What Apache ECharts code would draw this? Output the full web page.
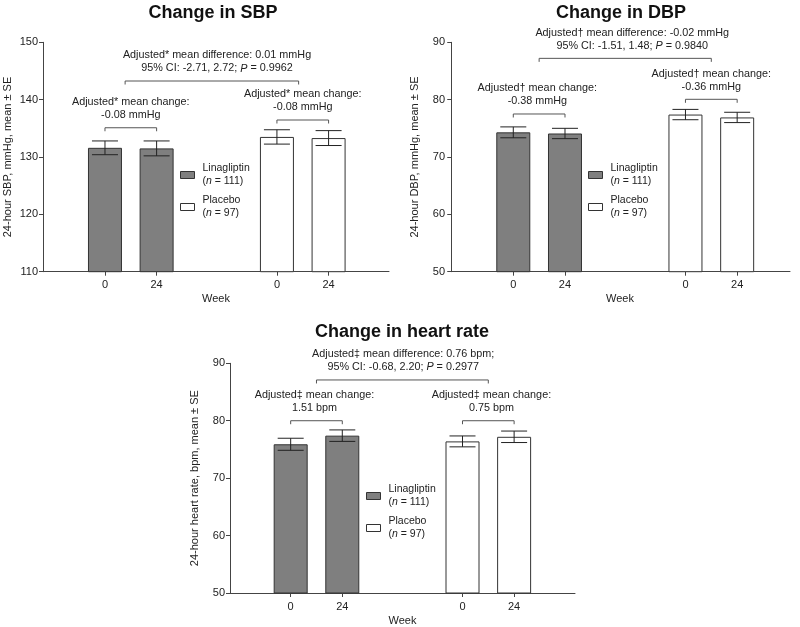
<!DOCTYPE html>
<html><head><meta charset="utf-8">
<script src="https://cdn.jsdelivr.net/npm/echarts@6/dist/echarts.min.js"></script>
<style>html,body{margin:0;padding:0;background:#fff}#c{width:800px;height:627px}</style>
</head><body><div id="c"></div>
<script>
// ---------- data ----------
const weeks = ['0', '24'];
const groups = ['Linagliptin', 'Placebo'];
const groupN = [111, 97];

const sbpTicks = [110, 120, 130, 140, 150];
const sbpLina = [131.6, 131.5];
const sbpLinaSE = [1.2, 1.3];
const sbpPlac = [133.5, 133.3];
const sbpPlacSE = [1.25, 1.3];
const sbpNotes = [
  'Adjusted* mean difference: 0.01 mmHg\n95% CI: -2.71, 2.72; {i|P} = 0.9962',
  'Adjusted* mean change:\n-0.08 mmHg',
  'Adjusted* mean change:\n-0.08 mmHg'
];

const dbpTicks = [50, 60, 70, 80, 90];
const dbpLina = [74.3, 74.1];
const dbpLinaSE = [0.95, 0.9];
const dbpPlac = [77.4, 76.9];
const dbpPlacSE = [0.9, 0.9];
const dbpNotes = [
  'Adjusted\u2020 mean difference: -0.02 mmHg\n95% CI: -1.51, 1.48; {i|P} = 0.9840',
  'Adjusted\u2020 mean change:\n-0.38 mmHg',
  'Adjusted\u2020 mean change:\n-0.36 mmHg'
];

const hrTicks = [50, 60, 70, 80, 90];
const hrLina = [75.9, 77.4];
const hrLinaSE = [1.05, 1.0];
const hrPlac = [76.4, 77.2];
const hrPlacSE = [0.95, 1.0];
const hrNotes = [
  'Adjusted\u2021 mean difference: 0.76 bpm;\n95% CI: -0.68, 2.20; {i|P} = 0.2977',
  'Adjusted\u2021 mean change:\n1.51 bpm',
  'Adjusted\u2021 mean change:\n0.75 bpm'
];

// ---------- layout ----------
const FONT = '"Liberation Sans", Arial, Helvetica, sans-serif';
const TXT = '#222';
const AX = '#444';
const NOTE_FS = 10.8;
const FIRST = 1.2, GROUP_GAP = 2.33;
const slots = [[FIRST, FIRST + 1], [FIRST + 1 + GROUP_GAP, FIRST + 2 + GROUP_GAP]];
const flatSlots = slots[0].concat(slots[1]);
const pairMid = g => (slots[g][0] + slots[g][1]) / 2;

const panels = [
  { title: 'Change in SBP', yName: '24-hour SBP, mmHg, mean \u00b1 SE',
    ticks: sbpTicks, lina: sbpLina, linaSE: sbpLinaSE, plac: sbpPlac, placSE: sbpPlacSE, notes: sbpNotes,
    grid: { left: 43, top: 42.3, width: 346, height: 229.4 }, xMin: 0, xMax: 6.7,
    titlePos: { left: 213, top: 4 }, legendPos: { left: 180, top: 162 },
    big: { a: slots[0][0] + 0.39, b: slots[1][0] + 0.42, y: 143.25, tx: 3.37 },
    small: [{ y: 135.1, tx: pairMid(0) }, { y: 136.45, tx: pairMid(1) }] },
  { title: 'Change in DBP', yName: '24-hour DBP, mmHg, mean \u00b1 SE',
    ticks: dbpTicks, lina: dbpLina, linaSE: dbpLinaSE, plac: dbpPlac, placSE: dbpPlacSE, notes: dbpNotes,
    grid: { left: 450, top: 42.3, width: 340, height: 229.4 }, xMin: -0.024, xMax: 6.552,
    titlePos: { left: 621, top: 4 }, legendPos: { left: 588, top: 162 },
    big: { a: pairMid(0), b: pairMid(1), y: 87.2, tx: 3.5 },
    small: [{ y: 77.5, tx: pairMid(0) - 0.035 }, { y: 80.06, tx: pairMid(1) }] },
  { title: 'Change in heart rate', yName: '24-hour heart rate, bpm, mean \u00b1 SE',
    ticks: hrTicks, lina: hrLina, linaSE: hrLinaSE, plac: hrPlac, placSE: hrPlacSE, notes: hrNotes,
    grid: { left: 230, top: 363.3, width: 345, height: 230 }, xMin: 0.024, xMax: 6.71,
    titlePos: { left: 402, top: 323 }, legendPos: { left: 366, top: 483 },
    big: { a: pairMid(0), b: pairMid(1), y: 87.1, tx: 3.38 },
    small: [{ y: 80.0, tx: pairMid(0) - 0.04 }, { y: 80.0, tx: pairMid(1) + 0.06 }] }
];

const richLegend = { i: { fontStyle: 'italic', fontSize: 10.5, fontFamily: FONT, lineHeight: 13, color: TXT } };
const richNote = { i: { fontStyle: 'italic', fontSize: NOTE_FS, fontFamily: FONT, lineHeight: 13, color: TXT } };

const option = { animation: false, backgroundColor: '#fff',
  title: [], grid: [], xAxis: [], yAxis: [], legend: [], series: [] };

panels.forEach((p, i) => {
  option.title.push({ text: p.title, left: p.titlePos.left, top: p.titlePos.top, textAlign: 'center', padding: 0,
    textStyle: { fontFamily: FONT, fontSize: 18, fontWeight: 'bold', color: '#111' } });
  option.grid.push(Object.assign({ containLabel: false }, p.grid));
  option.xAxis.push({ type: 'value', gridIndex: i, min: p.xMin, max: p.xMax,
    name: 'Week', nameLocation: 'middle', nameGap: 22,
    nameTextStyle: { fontFamily: FONT, fontSize: 11, color: TXT },
    axisLine: { show: true, lineStyle: { color: AX, width: 1 } },
    axisTick: { show: true, length: 4, customValues: flatSlots, lineStyle: { color: AX } },
    axisLabel: { show: true, customValues: flatSlots, margin: 8, fontFamily: FONT, fontSize: 11, color: TXT,
      formatter: v => { const k = flatSlots.findIndex(s => Math.abs(s - v) < 1e-6); return k < 0 ? '' : weeks[k % 2]; } },
    splitLine: { show: false } });
  option.yAxis.push({ type: 'value', gridIndex: i, min: p.ticks[0], max: p.ticks[p.ticks.length - 1],
    interval: p.ticks[1] - p.ticks[0],
    name: p.yName, nameLocation: 'middle', nameGap: 30,
    nameTextStyle: { fontFamily: FONT, fontSize: 11, color: TXT },
    axisLine: { show: true, lineStyle: { color: AX, width: 1 } },
    axisTick: { show: true, length: 4, lineStyle: { color: AX } },
    axisLabel: { margin: 5, fontFamily: FONT, fontSize: 11, color: TXT },
    splitLine: { show: false } });
  option.legend.push({ orient: 'vertical', left: p.legendPos.left, top: p.legendPos.top, padding: 0,
    itemWidth: 14, itemHeight: 7, itemGap: 6, selectedMode: false,
    data: [
      { name: 'Linagliptin', icon: 'rect', itemStyle: { color: '#7f7f7f', borderColor: '#333', borderWidth: 1 } },
      { name: 'Placebo', icon: 'rect', itemStyle: { color: '#fff', borderColor: '#333', borderWidth: 1 } }
    ],
    formatter: name => { const g = groups.indexOf(name); return name + '\n({i|n} = ' + groupN[g] + ')'; },
    textStyle: { fontFamily: FONT, fontSize: 10.5, lineHeight: 13, color: TXT, padding: [0, 0, 0, 3], rich: richLegend } });

  option.series.push({ type: 'bar', name: 'Linagliptin', xAxisIndex: i, yAxisIndex: i, barWidth: 34, barGap: '-100%',
    clip: true, silent: true,
    itemStyle: { color: '#7f7f7f', borderColor: '#333', borderWidth: 1 },
    data: p.lina.map((v, k) => [slots[0][k], v]) });
  option.series.push({ type: 'bar', name: 'Placebo', xAxisIndex: i, yAxisIndex: i, barWidth: 34, barGap: '-100%',
    clip: true, silent: true,
    itemStyle: { color: '#fff', borderColor: '#333', borderWidth: 1 },
    data: p.plac.map((v, k) => [slots[1][k], v]) });

  const errData = p.lina.map((v, k) => [slots[0][k], v - p.linaSE[k], v + p.linaSE[k]])
    .concat(p.plac.map((v, k) => [slots[1][k], v - p.placSE[k], v + p.placSE[k]]));
  option.series.push({ type: 'custom', name: 'SE', xAxisIndex: i, yAxisIndex: i, silent: true, z: 5,
    encode: { x: 0, y: [1, 2] }, data: errData,
    renderItem: (params, api) => {
      const a = api.coord([api.value(0), api.value(1)]);
      const b = api.coord([api.value(0), api.value(2)]);
      const hw = 13, st = { stroke: '#222', lineWidth: 1 };
      return { type: 'group', children: [
        { type: 'line', shape: { x1: a[0], y1: a[1], x2: b[0], y2: b[1] }, style: st },
        { type: 'line', shape: { x1: a[0] - hw, y1: a[1], x2: a[0] + hw, y2: a[1] }, style: st },
        { type: 'line', shape: { x1: b[0] - hw, y1: b[1], x2: b[0] + hw, y2: b[1] }, style: st }
      ] };
    } });

  const brData = [
    [p.big.a, p.big.b, p.big.y, p.big.tx],
    [slots[0][0], slots[0][1], p.small[0].y, p.small[0].tx],
    [slots[1][0], slots[1][1], p.small[1].y, p.small[1].tx]
  ];
  const notes = p.notes;
  option.series.push({ type: 'custom', name: 'brackets', xAxisIndex: i, yAxisIndex: i, silent: true, z: 6,
    encode: { x: [0, 1], y: 2 }, data: brData,
    renderItem: (params, api) => {
      const l = api.coord([api.value(0), api.value(2)]);
      const r = api.coord([api.value(1), api.value(2)]);
      const t = api.coord([api.value(3), api.value(2)]);
      const d = 3.5;
      return { type: 'group', children: [
        { type: 'polyline', shape: { points: [[l[0], l[1] + d], [l[0], l[1]], [r[0], r[1]], [r[0], r[1] + d]] },
          style: { stroke: '#555', lineWidth: 1, fill: null } },
        { type: 'text', x: t[0], y: t[1] - 6,
          style: { text: notes[params.dataIndex], fontFamily: FONT, fontSize: NOTE_FS, lineHeight: 13, fill: TXT,
            align: 'center', verticalAlign: 'bottom', rich: richNote } }
      ] };
    } });
});

const chart = echarts.init(document.getElementById('c'));
chart.setOption(option);
</script></body></html>
